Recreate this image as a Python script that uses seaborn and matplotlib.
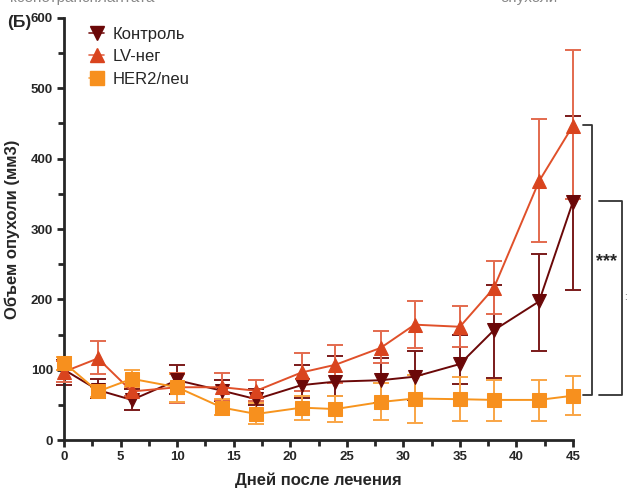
import numpy as np
import pandas as pd
import seaborn as sns
import matplotlib
matplotlib.use("Agg")
import matplotlib.pyplot as plt
from matplotlib.ticker import MultipleLocator
from matplotlib.lines import Line2D

days = [0, 3, 6, 10, 14, 17, 21, 24, 28, 31, 35, 38, 42, 45]

ctrl_mean = [100, 71, 57, 85, 70, 58, 78, 83, 85, 90, 108, 156, 197, 339]
ctrl_lo   = [78, 60, 43, 65, 55, 50, 60, 62, 53, 57, 80, 88, 127, 213]
ctrl_hi   = [114, 87, 72, 107, 86, 72, 106, 119, 116, 126, 149, 220, 264, 460]

lv_mean = [97, 116, 69, 75, 75, 70, 96, 107, 131, 164, 161, 216, 368, 447]
lv_lo   = [82, 94, 62, 53, 57, 55, 69, 81, 110, 131, 132, 179, 281, 343]
lv_hi   = [112, 141, 75, 95, 95, 85, 124, 135, 155, 197, 191, 254, 457, 555]

her_mean = [110, 69, 87, 75, 46, 37, 46, 44, 54, 59, 58, 57, 57, 63]
her_lo   = [100, 61, 75, 54, 35, 23, 29, 26, 28, 24, 27, 27, 27, 35]
her_hi   = [118, 75, 99, 94, 58, 52, 63, 62, 81, 92, 89, 85, 86, 91]

series = ["Контроль", "LV-нег", "HER2/neu"]
means = [ctrl_mean, lv_mean, her_mean]
los = [ctrl_lo, lv_lo, her_lo]
his = [ctrl_hi, lv_hi, her_hi]

line_colors = ["#6B0808", "#E0502A", "#F7941D"]
err_colors = ["#7A1A1A", "#E36A4E", "#F9A545"]
marker_colors = ["#6B0808", "#D9441E", "#F7901E"]
markers = ["v", "^", "s"]

sns.set_style("ticks")
plt.rcParams["font.family"] = ["Liberation Sans", "DejaVu Sans"]

fig = plt.figure(figsize=(6.27, 4.9), dpi=100)
ax = fig.add_axes([64/627, 50/490, (573-64)/627, (440-18)/490])

df = pd.concat([
    pd.DataFrame({"day": days, "vol": m, "group": s})
    for s, m in zip(series, means)
])

for i, s in enumerate(series):
    m = np.array(means[i]); lo = np.array(los[i]); hi = np.array(his[i])
    ax.errorbar(days, m, yerr=[m - lo, hi - m], fmt="none", ecolor=err_colors[i],
                elinewidth=1.4, capsize=6, capthick=1.4, zorder=2 + i, clip_on=False)

sns.lineplot(data=df, x="day", y="vol", hue="group", style="group",
             palette=dict(zip(series, line_colors)),
             markers=dict(zip(series, markers)), dashes=False,
             markersize=10, linewidth=1.4, ax=ax, legend=False, zorder=5)
for ln in ax.lines:
    ln.set_clip_on(False)
for i, ln in enumerate(ax.lines[-3:]):
    ln.set_markerfacecolor(marker_colors[i])
    ln.set_markeredgecolor(marker_colors[i])

handles = [Line2D([], [], color=err_colors[i], marker=markers[i], markersize=10,
                  markerfacecolor=marker_colors[i], markeredgecolor=marker_colors[i],
                  linewidth=1.2) for i in range(3)]
leg = ax.legend(handles, series, loc="upper left", bbox_to_anchor=(0.02, 1.015),
                frameon=False, fontsize=12, handlelength=0.9, handletextpad=0.5,
                labelspacing=0.45)

ax.set_xlim(0, 45)
ax.set_ylim(0, 600)
ax.xaxis.set_major_locator(MultipleLocator(5))
ax.xaxis.set_minor_locator(MultipleLocator(2.5))
ax.yaxis.set_major_locator(MultipleLocator(100))
ax.yaxis.set_minor_locator(MultipleLocator(50))
sns.despine(ax=ax)
for sp in ["left", "bottom"]:
    ax.spines[sp].set_linewidth(2)
ax.tick_params(which="major", width=2, length=5, labelsize=9.5, pad=3)
ax.tick_params(which="minor", width=2, length=4)
for lab in ax.get_xticklabels() + ax.get_yticklabels():
    lab.set_fontweight("bold")

ax.set_xlabel("Дней после лечения", fontsize=12, fontweight="bold", labelpad=7)
ax.set_ylabel("Объем опухоли (мм3)", fontsize=12, fontweight="bold", labelpad=8)

def bracket(x, y1, y2, xl):
    fig.add_artist(Line2D([xl/627, x/627, x/627, xl/627],
                          [1 - y1/490, 1 - y1/490, 1 - y2/490, 1 - y2/490],
                          color="#333333", linewidth=1.3))

bracket(592, 125, 395, 583)
bracket(622, 201, 395, 599)
fig.text(607/627, 1 - 262/490, "***", ha="center", va="center",
         fontsize=13, fontweight="bold")
fig.text(624/627, 1 - 297/490, ":", ha="left", va="center",
         fontsize=7, color="#555555")

fig.text(7/627, 1 - 22/490, "(Б)", ha="left", va="center", fontsize=12.5, fontweight="bold")
fig.text(10/627, 1 + 2/490, "ксенотрансплантата", ha="left", va="center",
         fontsize=11, color="#888888")
fig.text(500/627, 1 + 2/490, "опухоли", ha="left", va="center",
         fontsize=11, color="#888888")

fig.savefig("out.png", dpi=100)
